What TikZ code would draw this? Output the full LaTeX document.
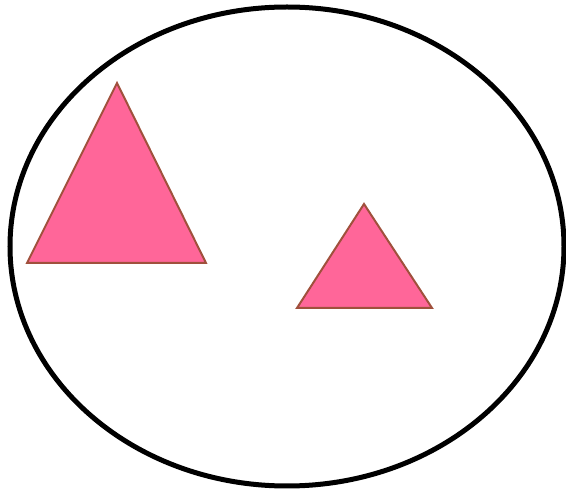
\documentclass[tikz,border=0pt]{standalone}
\begin{document}
\begin{tikzpicture}[x=1pt,y=-1pt,
  tri/.style={fill=pinkfill,draw=tribrown,line width=2pt,line join=miter},
  ring/.style={draw=black,line width=5pt}]
\definecolor{pinkfill}{HTML}{FF6699}
\definecolor{tribrown}{HTML}{A0503C}
\useasboundingbox (0,0) rectangle (566,494);
\draw[ring] (287,246.5) ellipse [x radius=277, y radius=239.5];
\draw[tri] (117,83) -- (206,263) -- (27,263) -- cycle;
\draw[tri] (364,204) -- (432,308) -- (297,308) -- cycle;
\end{tikzpicture}
\end{document}
